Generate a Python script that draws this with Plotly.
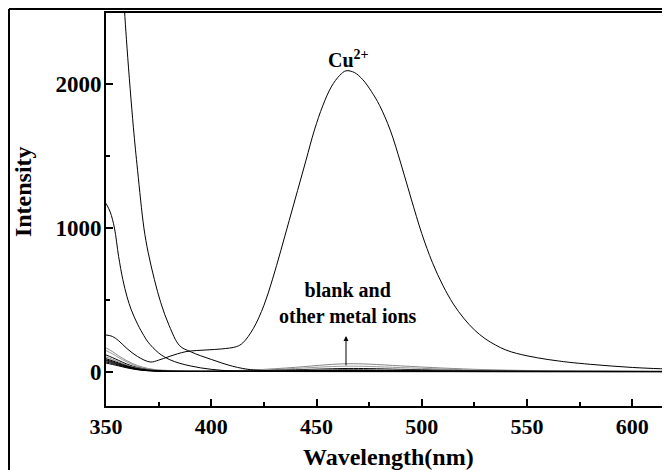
import plotly.graph_objects as go

# ---------------- data ----------------
cu_wl = [350, 353, 356, 360, 365, 371, 375, 380, 388, 398, 405, 412, 415, 420, 425, 429, 433, 437, 441, 445, 449,
         453, 457, 461, 464, 468, 472, 476, 480, 485, 490, 495, 500, 505, 510, 515, 520, 525, 530, 535, 540,
         545, 550, 555, 560, 565, 570, 580, 590, 600, 610, 618]
cu_int = [255, 245, 215, 160, 105, 67, 80, 105, 139, 151, 158, 174, 200, 300, 460, 638, 840, 1050, 1260, 1470, 1680,
          1850, 1980, 2060, 2092, 2080, 2030, 1950, 1850, 1680, 1450, 1200, 960, 760, 600, 470, 370, 290, 230, 185, 150,
          127, 110, 96, 84, 74, 65, 51, 39, 29, 22, 18]

a_wl = [350, 355, 358, 360, 363, 365, 368, 370, 373, 376, 380, 385, 390, 395, 400, 405, 410, 415, 420, 430, 450, 500, 618]
a_int = [5500, 3500, 2700, 2250, 1700, 1400, 1000, 830, 640, 480, 320, 180, 140, 110, 85, 60, 38, 22, 12, 5, 3, 2, 1]

b_wl = [350, 352, 354, 356, 358, 360, 362, 365, 368, 370, 375, 380, 385, 390, 395, 400, 405, 410, 420, 618]
b_int = [1170, 1110, 1000, 800, 640, 520, 430, 330, 250, 205, 130, 85, 58, 40, 26, 16, 9, 5, 2, 1]

low_wl = [350, 353, 356, 360, 365, 370, 375, 380, 390, 400, 420, 440, 455, 465, 475, 490, 510, 530, 560, 590, 618]
low1 = [165, 140, 110, 75, 42, 22, 12, 8, 5, 5, 12, 30, 48, 55, 52, 40, 25, 14, 6, 3, 2]
low2 = [146, 125, 98, 66, 36, 18, 10, 6, 4, 4, 9, 22, 34, 38, 36, 28, 18, 10, 5, 3, 2]
low3 = [116, 98, 78, 52, 28, 14, 7, 4, 3, 3, 6, 13, 19, 22, 21, 16, 10, 6, 3, 2, 1]
low4 = [102, 86, 68, 45, 24, 12, 6, 3, 2, 2, 4, 9, 13, 15, 14, 11, 7, 4, 2, 1, 1]
low5 = [90, 76, 60, 40, 21, 10, 5, 3, 2, 2, 3, 6, 9, 10, 9, 7, 5, 3, 1, 1, 1]
low6 = [82, 70, 55, 36, 19, 9, 4, 2, 1, 1, 2, 4, 6, 7, 6, 5, 3, 2, 1, 1, 0]
low7 = [76, 64, 50, 33, 17, 8, 4, 2, 1, 1, 2, 3, 4, 5, 4, 3, 2, 1, 1, 0, 0]
low8 = [68, 57, 45, 30, 15, 7, 3, 2, 1, 1, 1, 2, 3, 3, 3, 2, 1, 1, 0, 0, 0]
low9 = [60, 50, 40, 26, 13, 6, 3, 1, 1, 1, 1, 1, 2, 2, 2, 1, 1, 0, 0, 0, 0]
low_series = [low1, low2, low3, low4, low5, low6, low7, low8, low9]
low_colors = ["#888888", "#999999", "#000000", "#8a8a8a", "#000000", "#000000", "#000000", "#000000", "#000000"]

x_tickvals = [350, 400, 450, 500, 550, 600]
y_tickvals = [0, 1000, 2000]

FONT = "Liberation Serif"

fig = go.Figure()
for s, c in zip(low_series, low_colors):
    fig.add_trace(go.Scatter(x=low_wl, y=s, mode="lines", line=dict(color=c, width=1, shape="spline"),
                             showlegend=False, hoverinfo="skip"))
fig.add_trace(go.Scatter(x=b_wl, y=b_int, mode="lines", line=dict(color="black", width=1, shape="spline"),
                         showlegend=False))
fig.add_trace(go.Scatter(x=a_wl, y=a_int, mode="lines", line=dict(color="black", width=1, shape="spline"),
                         showlegend=False))
fig.add_trace(go.Scatter(x=cu_wl, y=cu_int, mode="lines", line=dict(color="black", width=1, shape="spline"),
                         showlegend=False))

# page body has an 8px margin, so the figure is sized 662x462 and sits at (8, 8)
fig.update_layout(
    width=662, height=462,
    margin=dict(l=98, r=0, t=5, b=64, autoexpand=False),
    paper_bgcolor="white", plot_bgcolor="white",
    font=dict(family=FONT, color="black"),
    xaxis=dict(range=[350, 617.9], tickvals=x_tickvals, ticks="inside", ticklen=7, tickwidth=2,
               tickcolor="black", showline=True, linewidth=2, linecolor="black", mirror=True,
               showgrid=False, zeroline=False, automargin=False,
               tickfont=dict(family=FONT, size=22, color="black", weight="bold"),
               minor=dict(dtick=25, tick0=350, ticks="inside", ticklen=4, tickwidth=2, tickcolor="black",
                          showgrid=False)),
    yaxis=dict(range=[-239, 2494], tickvals=y_tickvals, ticks="inside", ticklen=7, tickwidth=2,
               tickcolor="black", showline=True, linewidth=2, linecolor="black", mirror=False,
               showgrid=False, zeroline=False, ticklabelstandoff=-2, automargin=False,
               tickfont=dict(family=FONT, size=23, color="black", weight="bold"),
               minor=dict(dtick=500, tick0=0, ticks="inside", ticklen=4, tickwidth=2, tickcolor="black",
                          showgrid=False)),
)

# outer frame (left and top edges visible)
fig.add_shape(type="line", xref="paper", yref="paper", x0=-0.172, x1=-0.172, y0=1.0102, y1=-0.3,
              line=dict(color="black", width=2))
fig.add_shape(type="line", xref="paper", yref="paper", x0=-0.172, x1=1.05, y0=1.0102, y1=1.0102,
              line=dict(color="black", width=2))

# axis titles
fig.add_annotation(text="<b>Intensity</b>", xref="paper", yref="paper", x=-0.147, y=0.5445,
                   textangle=-90, showarrow=False, font=dict(family=FONT, size=24, color="black"),
                   xanchor="center", yanchor="middle")
fig.add_annotation(text="<b>Wavelength(nm)</b>", xref="paper", yref="paper", x=0.5, y=-0.13,
                   showarrow=False, font=dict(family=FONT, size=24, color="black"),
                   xanchor="center", yanchor="middle")

# labels
fig.add_annotation(text="<b>Cu<sup>2+</sup></b>", x=465.4, y=2175, showarrow=False,
                   font=dict(family=FONT, size=20, color="black"), xanchor="center", yanchor="middle")
fig.add_annotation(text="<b>blank and<br>other metal ions</b>", x=465, y=478, showarrow=False,
                   font=dict(family=FONT, size=20, color="black"), xanchor="center", yanchor="middle")
fig.add_annotation(x=464, y=248, ax=464, ay=33, axref="x", ayref="y", xref="x", yref="y", text="",
                   showarrow=True, arrowhead=2, arrowsize=1, arrowwidth=1, arrowcolor="black")

fig.write_html("out.html")
